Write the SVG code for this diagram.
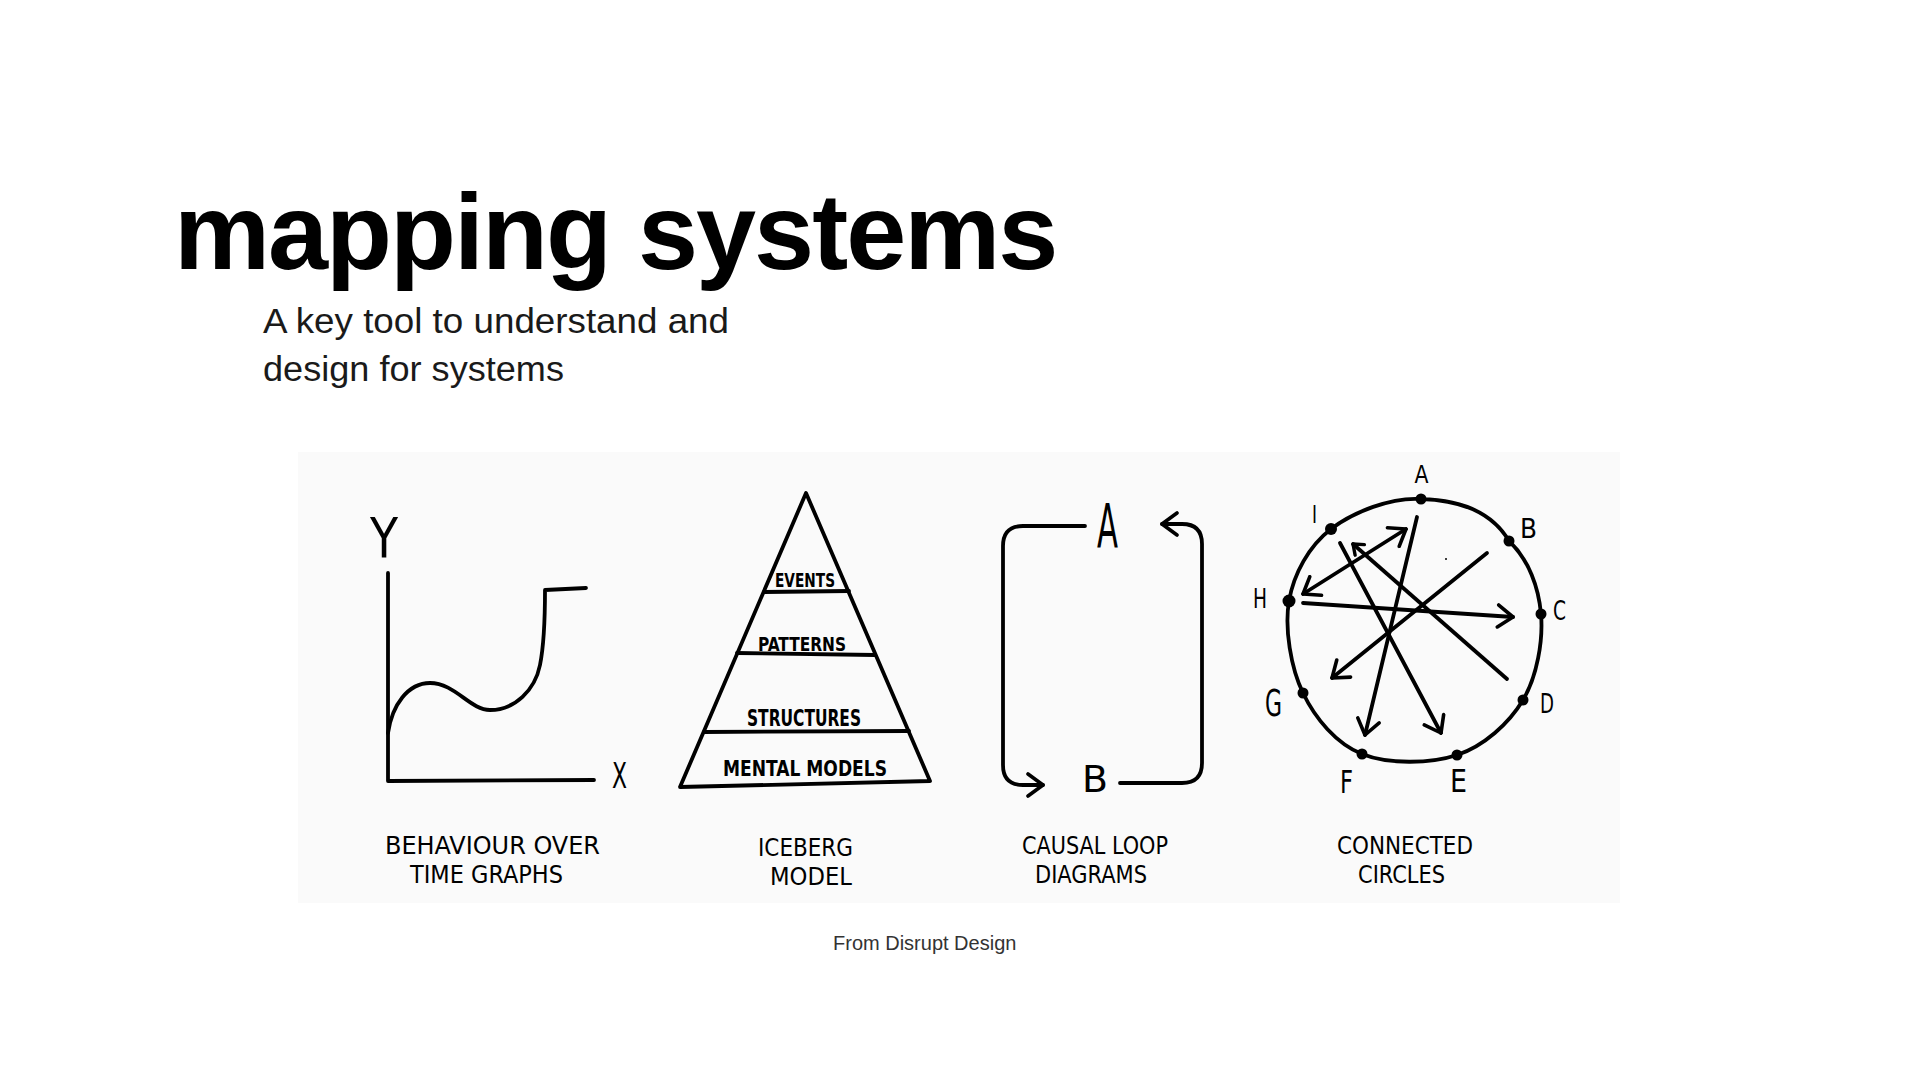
<svg xmlns="http://www.w3.org/2000/svg" width="1920" height="1080" viewBox="0 0 1920 1080">
<style>
.ink{fill:none;stroke:#000;stroke-width:3.8;stroke-linecap:round;stroke-linejoin:round}
.hand{font-family:"DejaVu Sans Condensed","DejaVu Sans",sans-serif;fill:#000}
.lbl{font-size:25px}
.inner{font-weight:bold}
.dot{fill:#000}
.title{font-family:"Liberation Sans",Arial,sans-serif;font-weight:bold;font-size:108px;letter-spacing:-2px;fill:#000}
.sub{font-family:"Liberation Sans",Arial,sans-serif;font-size:35px;fill:#1a1a1a}
.credit{font-family:"Liberation Sans",Arial,sans-serif;font-size:20px;fill:#333}
</style>
<defs>
<marker id="chev" viewBox="0 0 20 26" refX="18" refY="13" markerWidth="20" markerHeight="26" markerUnits="userSpaceOnUse" orient="auto-start-reverse">
<path d="M3,2 L18,13 L3,24" fill="none" stroke="#000" stroke-width="3.6" stroke-linecap="round" stroke-linejoin="round"/>
</marker>
<marker id="chevs" viewBox="0 0 14 18" refX="12" refY="9" markerWidth="14" markerHeight="18" markerUnits="userSpaceOnUse" orient="auto">
<path d="M3,2 L12,9 L3,16" fill="none" stroke="#000" stroke-width="3.4" stroke-linecap="round" stroke-linejoin="round"/>
</marker>
</defs>
<rect width="1920" height="1080" fill="#fff"/>
<g id="title">
<text class="title" x="174" y="269">mapping systems</text>
<text class="sub" x="263" y="333" textLength="466" lengthAdjust="spacingAndGlyphs">A key tool to understand and</text>
<text class="sub" x="263" y="381" textLength="301" lengthAdjust="spacingAndGlyphs">design for systems</text>
</g>
<rect id="panel" x="298" y="452" width="1322" height="451" fill="#fafafa"/>

<g id="behaviour-graph">
<path class="ink" d="M388,573 L388,781 L594,780"/>
<path class="ink" d="M388,733 C392,705 408,683 430,683 C455,683 470,710 490,710 C515,710 535,690 540,665 C545,640 545,610 545,590 L586,588"/>
<text class="hand" x="370" y="557" font-size="55" textLength="28" lengthAdjust="spacingAndGlyphs">Y</text>
<text class="hand" x="612" y="788" font-size="36" textLength="15" lengthAdjust="spacingAndGlyphs">X</text>
<text class="hand lbl" x="385" y="854" textLength="215" lengthAdjust="spacingAndGlyphs">BEHAVIOUR OVER</text>
<text class="hand lbl" x="410" y="883" textLength="153" lengthAdjust="spacingAndGlyphs">TIME GRAPHS</text>
</g>

<g id="iceberg-model">
<path class="ink" d="M680,787 L806,493 L930,781 Z"/>
<path class="ink" d="M764,592 L849,591"/>
<path class="ink" d="M737,653 L875,655"/>
<path class="ink" d="M704,732 L909,731"/>
<text class="hand inner" x="775" y="587" font-size="19" textLength="60" lengthAdjust="spacingAndGlyphs">EVENTS</text>
<text class="hand inner" x="758" y="651" font-size="20" textLength="88" lengthAdjust="spacingAndGlyphs">PATTERNS</text>
<text class="hand inner" x="747" y="726" font-size="23" textLength="114" lengthAdjust="spacingAndGlyphs">STRUCTURES</text>
<text class="hand inner" x="723" y="776" font-size="22" textLength="164" lengthAdjust="spacingAndGlyphs">MENTAL MODELS</text>
<text class="hand lbl" x="758" y="856" textLength="95" lengthAdjust="spacingAndGlyphs">ICEBERG</text>
<text class="hand lbl" x="770" y="885" textLength="82" lengthAdjust="spacingAndGlyphs">MODEL</text>
</g>

<g id="causal-loop">
<text class="hand" x="1097" y="547" font-size="60" textLength="21" lengthAdjust="spacingAndGlyphs">A</text>
<text class="hand" x="1082" y="792" font-size="37" textLength="26" lengthAdjust="spacingAndGlyphs">B</text>
<text class="hand lbl" x="1022" y="854" textLength="146" lengthAdjust="spacingAndGlyphs">CAUSAL LOOP</text>
<text class="hand lbl" x="1035" y="883" textLength="112" lengthAdjust="spacingAndGlyphs">DIAGRAMS</text>
</g>

<g id="connected-circles">
<path class="ink" d="M1421,499 C1460,500 1492,512 1509,541 C1529,560 1538.7,587.5 1541,614 C1543.3,640.5 1537,676.5 1523,700 C1509,723.5 1483.8,746 1457,755 C1430.2,764 1387.7,764.3 1362,754 C1336.3,743.7 1315.2,718.5 1303,693 C1290.8,667.5 1284.3,628.3 1289,601 C1293.7,573.7 1309,546 1331,529 C1353,512 1391.3,497 1421,499 Z"/>
<circle class="dot" cx="1421" cy="499" r="5.5"/>
<circle class="dot" cx="1509" cy="541" r="5.5"/>
<circle class="dot" cx="1541" cy="614" r="5.5"/>
<circle class="dot" cx="1523" cy="700" r="5.5"/>
<circle class="dot" cx="1457" cy="755" r="5.5"/>
<circle class="dot" cx="1362" cy="754" r="5.5"/>
<circle class="dot" cx="1303" cy="693" r="5.5"/>
<circle class="dot" cx="1289" cy="601" r="6.5"/>
<circle class="dot" cx="1331" cy="529" r="6"/>
<circle class="dot" cx="1446" cy="559" r="1"/>
<text class="hand" x="1414.5" y="483" font-size="25" textLength="14" lengthAdjust="spacingAndGlyphs">A</text>
<text class="hand" x="1520" y="538" font-size="27" textLength="17" lengthAdjust="spacingAndGlyphs">B</text>
<text class="hand" x="1553" y="620" font-size="27" textLength="13" lengthAdjust="spacingAndGlyphs">C</text>
<text class="hand" x="1540" y="713" font-size="27" textLength="14" lengthAdjust="spacingAndGlyphs">D</text>
<text class="hand" x="1450" y="792" font-size="32" textLength="17" lengthAdjust="spacingAndGlyphs">E</text>
<text class="hand" x="1340" y="793" font-size="32" textLength="13" lengthAdjust="spacingAndGlyphs">F</text>
<text class="hand" x="1265" y="716" font-size="38" textLength="17" lengthAdjust="spacingAndGlyphs">G</text>
<text class="hand" x="1253" y="608" font-size="27" textLength="14" lengthAdjust="spacingAndGlyphs">H</text>
<text class="hand" x="1312" y="523" font-size="25" textLength="5" lengthAdjust="spacingAndGlyphs">I</text>
<text class="hand lbl" x="1337" y="854" textLength="136" lengthAdjust="spacingAndGlyphs">CONNECTED</text>
<text class="hand lbl" x="1358" y="883" textLength="87" lengthAdjust="spacingAndGlyphs">CIRCLES</text>
</g>

<g id="connectors">
<path class="ink" d="M1085,526 L1023,526 Q1003,526 1003,546 L1003,765 Q1003,785 1023,785 L1043,785" marker-end="url(#chev)"/>
<path class="ink" d="M1120,783 L1182,783 Q1202,783 1202,763 L1202,544 Q1202,524 1182,524 L1162,524" marker-end="url(#chev)"/>
<path class="ink" d="M1417,517 L1365,735" marker-end="url(#chev)"/>
<path class="ink" d="M1340,543 L1441,733" marker-end="url(#chev)"/>
<path class="ink" d="M1303,594 L1406,529" marker-start="url(#chev)" marker-end="url(#chev)"/>
<path class="ink" d="M1303,603 L1513,617" marker-end="url(#chev)"/>
<path class="ink" d="M1487,553 L1332,678" marker-end="url(#chev)"/>
<path class="ink" d="M1507,679 L1353,544" marker-end="url(#chevs)"/>
</g>

<text class="credit" x="833" y="950">From Disrupt Design</text>
</svg>
